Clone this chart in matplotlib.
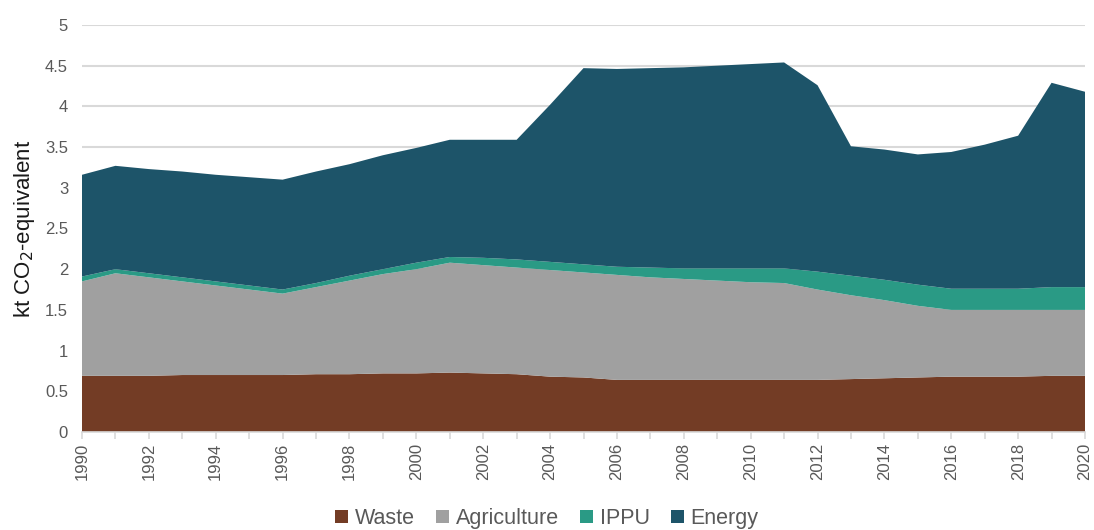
import matplotlib
matplotlib.use("Agg")
import matplotlib.pyplot as plt
from matplotlib.patches import Patch
import numpy as np

plt.rcParams['font.family'] = ['Liberation Sans', 'DejaVu Sans']

years = list(range(1990, 2021))
waste = [0.69, 0.69, 0.69, 0.70, 0.70, 0.70, 0.70, 0.71, 0.71, 0.72, 0.72, 0.73, 0.72, 0.71, 0.68, 0.67,
         0.64, 0.64, 0.64, 0.64, 0.64, 0.64, 0.64, 0.65, 0.66, 0.67, 0.68, 0.68, 0.68, 0.69, 0.69]
agriculture = [1.16, 1.26, 1.21, 1.15, 1.10, 1.05, 1.00, 1.07, 1.15, 1.22, 1.28, 1.35, 1.33, 1.31, 1.31, 1.29,
               1.29, 1.26, 1.24, 1.22, 1.20, 1.19, 1.11, 1.03, 0.96, 0.88, 0.82, 0.82, 0.82, 0.81, 0.81]
ippu = [0.06, 0.05, 0.05, 0.05, 0.05, 0.05, 0.05, 0.05, 0.06, 0.06, 0.08, 0.07, 0.09, 0.10, 0.10, 0.10,
        0.10, 0.12, 0.13, 0.15, 0.17, 0.18, 0.22, 0.24, 0.25, 0.26, 0.26, 0.26, 0.26, 0.28, 0.28]
energy = [1.25, 1.27, 1.28, 1.30, 1.31, 1.33, 1.35, 1.37, 1.37, 1.40, 1.41, 1.44, 1.45, 1.47, 1.93, 2.41,
          2.43, 2.45, 2.47, 2.49, 2.51, 2.53, 2.29, 1.59, 1.60, 1.60, 1.68, 1.77, 1.88, 2.51, 2.40]
series_names = ['Waste', 'Agriculture', 'IPPU', 'Energy']
colors = ['#733C25', '#A0A0A0', '#2A9A85', '#1D5469']

fig = plt.figure(figsize=(10.94, 5.30), dpi=100)
ax = fig.add_axes([82 / 1094, 98 / 530, (1085 - 82) / 1094, (432 - 25) / 530])

ax.stackplot(years, waste, agriculture, ippu, energy, colors=colors, labels=series_names,
             linewidth=0, zorder=2)

ax.set_xlim(1990, 2020)
ax.set_ylim(0, 5)
ax.set_yticks(np.arange(0, 5.01, 0.5))
ax.set_yticklabels(['0', '0.5', '1', '1.5', '2', '2.5', '3', '3.5', '4', '4.5', '5'])
ax.yaxis.grid(True, color='#D9D9D9', linewidth=1.5, zorder=0)
ax.set_axisbelow(True)

ax.set_xticks(years, minor=True)
ax.set_xticks(years[::2])
ax.set_xticklabels([str(y) for y in years[::2]], rotation=90)

for s in ['top', 'right', 'left']:
    ax.spines[s].set_visible(False)
ax.spines['bottom'].set_color('#D9D9D9')
ax.spines['bottom'].set_linewidth(1.2)

ax.tick_params(axis='y', length=0, pad=10, labelsize=12, labelcolor='#595959')
ax.tick_params(axis='x', which='both', length=5, color='#D9D9D9', width=1.2,
               labelsize=12, labelcolor='#595959', pad=3)

ax.set_ylabel('kt CO$_2$-equivalent', fontsize=16, color='#1a1a1a', labelpad=6)

handles = [Patch(facecolor=c, edgecolor='none', label=n) for c, n in zip(colors, series_names)]
fig.legend(handles=handles, loc='lower center', bbox_to_anchor=(0.5, -0.035), ncol=4, frameon=False,
           fontsize=15.5, labelcolor='#595959', handlelength=0.6, handleheight=0.6,
           handletextpad=0.3, columnspacing=1.0)

fig.savefig('out.png', dpi=100)
